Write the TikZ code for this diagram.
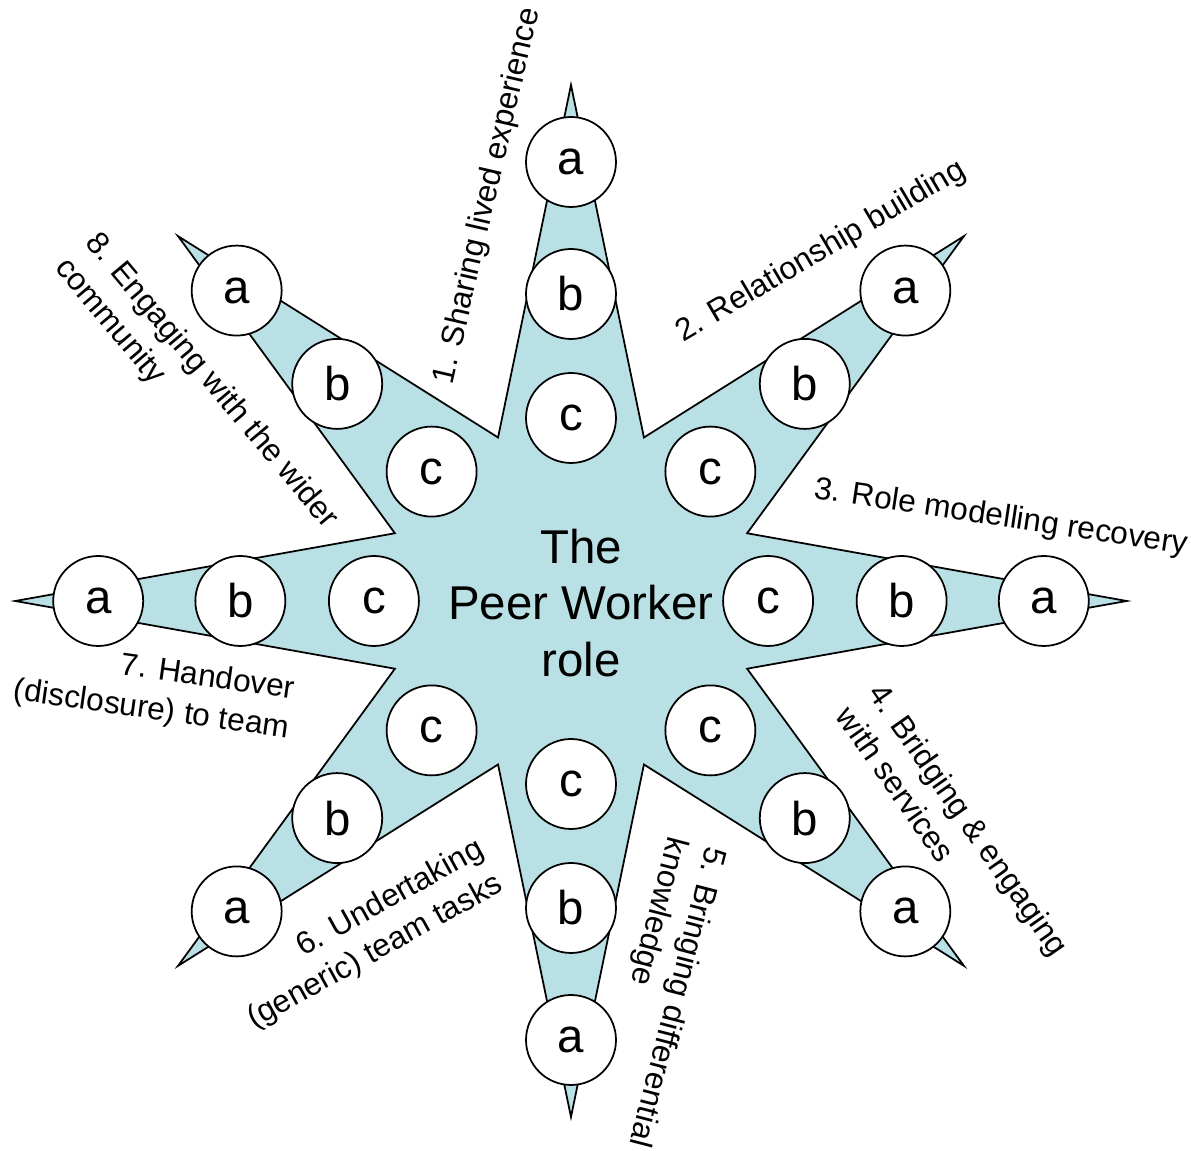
\documentclass[tikz,border=0pt]{standalone}
\usepackage{fontspec}
\setmainfont{Liberation Sans}
\definecolor{rayfill}{RGB}{185,224,228}
\tikzset{
  mystar/.style = {draw, fill=rayfill, line width=1pt, line join=miter},
  mycircle/.style = {circle, draw, fill=white, line width=1pt, minimum size=1.8cm, inner sep=0pt, font=\fontsize{27}{30}\selectfont},
  mylabel/.style = {inner sep=0pt, font=\fontsize{18}{22.5}\selectfont},
  mycentre/.style = {align=center, inner sep=0pt, font=\fontsize{27}{32.4}\selectfont},
}
\begin{document}
\begin{tikzpicture}[x=0.02cm, y=0.02cm]
\useasboundingbox (-571,-550) rectangle (620,601);
\foreach \k in {1,...,8}{
  \pgfmathsetmacro{\ang}{135-45*\k}
  \coordinate (t\k) at ({1.077*516*cos(\ang)},{516*sin(\ang)});
  \coordinate (i\k) at ({1.077*177*cos(\ang-22.5)},{177*sin(\ang-22.5)});
}
\draw[mystar] (t1) -- (i1) \foreach \k in {2,...,8}{-- (t\k) -- (i\k)} -- cycle;
\foreach \k in {1,...,8}{
  \pgfmathsetmacro{\ang}{135-45*\k}
  \foreach \n/\r in {c/183, b/307, a/439}
    \node[mycircle] (\n\k) at ({1.077*\r*cos(\ang)},{\r*sin(\ang)}) {\n};
}
\node[mycentre] (role) at (10,-2) {The\\Peer Worker\\role};
\node[mylabel, rotate=77] (lab1) at (-83,405) {1. Sharing lived experience};
\node[mylabel, rotate=30.5] (lab2) at (250,349) {2. Relationship building};
\node[mylabel, rotate=-8.5] (lab3) at (430,83) {3. Role modelling recovery};
\node[mylabel, rotate=-55, align=left] (lab4) at (382,-230) {4. Bridging \& engaging\\with services};
\node[mylabel, rotate=-104.5, align=left] (lab5) at (86,-391) {5. Bringing differential\\knowledge};
\node[mylabel, rotate=29, align=right] (lab6) at (-205,-334) {6. Undertaking\\(generic) team tasks};
\node[mylabel, rotate=-8, align=right] (lab7) at (-417,-90) {7. Handover\\(disclosure) to team};
\node[mylabel, rotate=-50, align=left] (lab8) at (-375,207) {8. Engaging with the wider\\community};
\end{tikzpicture}
\end{document}
